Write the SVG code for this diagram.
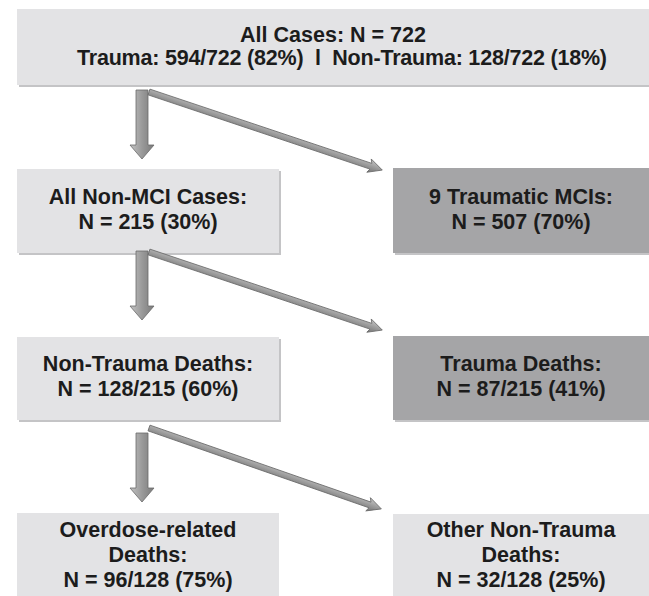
<svg xmlns="http://www.w3.org/2000/svg" xmlns:xlink="http://www.w3.org/1999/xlink" width="649" height="596" viewBox="0 0 649 596">
<style>
  .light { fill: #e3e3e5; }
  .dark { fill: #a5a5a7; }
  .shadow { fill: #c4c4c6; }
  .t { font-family: "Liberation Sans", Arial, sans-serif; font-weight: bold; font-size: 21.5px; fill: #1c1c1c; text-anchor: middle; }
  .arrow { stroke: #6a6a6a; stroke-width: 0.8; stroke-linejoin: miter; }
</style>
<defs>
  <linearGradient id="gv" x1="0" y1="0" x2="1" y2="0">
    <stop offset="0" stop-color="#c2c2c2"/>
    <stop offset="0.5" stop-color="#9a9a9a"/>
    <stop offset="1" stop-color="#7a7a7a"/>
  </linearGradient>
  <linearGradient id="gd" x1="0" y1="0" x2="0" y2="1">
    <stop offset="0" stop-color="#c8c8c8"/>
    <stop offset="0.5" stop-color="#9c9c9c"/>
    <stop offset="1" stop-color="#747474"/>
  </linearGradient>
  <path id="varrow" class="arrow" fill="url(#gv)" d="M -6 0 L 6 0 L 6 55 L 12 55 L 0 69 L -12 55 L -6 55 Z"/>
  <path id="darrow" class="arrow" fill="url(#gd)" d="M 0 -3 L 234 -3 L 232 -7 L 246 0 L 232 7 L 234 3 L 0 3 Z"/>
</defs>

<g id="node-all-cases">
  <rect class="shadow" x="19" y="11" width="632" height="76"/>
  <rect class="light" x="17" y="9" width="632" height="76"/>
  <text class="t" x="333" y="42">All Cases: N = 722</text>
  <text class="t" x="342" y="65" xml:space="preserve" textLength="530" lengthAdjust="spacing">Trauma: 594/722 (82%)  l  Non-Trauma: 128/722 (18%)</text>
</g>

<g id="node-non-mci">
  <rect class="shadow" x="19" y="171" width="262" height="84"/>
  <rect class="light" x="17" y="169" width="262" height="84"/>
  <text class="t" x="148" y="204">All Non-MCI Cases:</text>
  <text class="t" x="148" y="229">N = 215 (30%)</text>
</g>

<g id="node-traumatic-mci">
  <rect class="shadow" x="395" y="170" width="256" height="85"/>
  <rect class="dark" x="393" y="168" width="256" height="85"/>
  <text class="t" x="521" y="204">9 Traumatic MCIs:</text>
  <text class="t" x="521" y="229">N = 507 (70%)</text>
</g>

<g id="node-non-trauma-deaths">
  <rect class="shadow" x="19" y="339" width="262" height="83"/>
  <rect class="light" x="17" y="337" width="262" height="83"/>
  <text class="t" x="148" y="371">Non-Trauma Deaths:</text>
  <text class="t" x="148" y="396">N = 128/215 (60%)</text>
</g>

<g id="node-trauma-deaths">
  <rect class="shadow" x="395" y="338" width="256" height="84"/>
  <rect class="dark" x="393" y="336" width="256" height="84"/>
  <text class="t" x="521" y="371">Trauma Deaths:</text>
  <text class="t" x="521" y="396">N = 87/215 (41%)</text>
</g>

<g id="node-overdose">
  <rect class="light" x="17" y="513" width="262" height="90"/>
  <text class="t" x="148" y="537">Overdose-related</text>
  <text class="t" x="148" y="562">Deaths:</text>
  <text class="t" x="148" y="587">N = 96/128 (75%)</text>
</g>

<g id="node-other-non-trauma">
  <rect class="light" x="393" y="514" width="256" height="90"/>
  <text class="t" x="521" y="537">Other Non-Trauma</text>
  <text class="t" x="521" y="562">Deaths:</text>
  <text class="t" x="521" y="587">N = 32/128 (25%)</text>
</g>

<g id="connectors">
  <use xlink:href="#varrow" transform="translate(142,90)"/>
  <use xlink:href="#darrow" transform="translate(149,92) rotate(18.5)"/>
  <use xlink:href="#varrow" transform="translate(142,251)"/>
  <use xlink:href="#darrow" transform="translate(149,252) rotate(18.5)"/>
  <use xlink:href="#varrow" transform="translate(142,433)"/>
  <use xlink:href="#darrow" transform="translate(149,428) rotate(19.2)"/>
</g>
</svg>
